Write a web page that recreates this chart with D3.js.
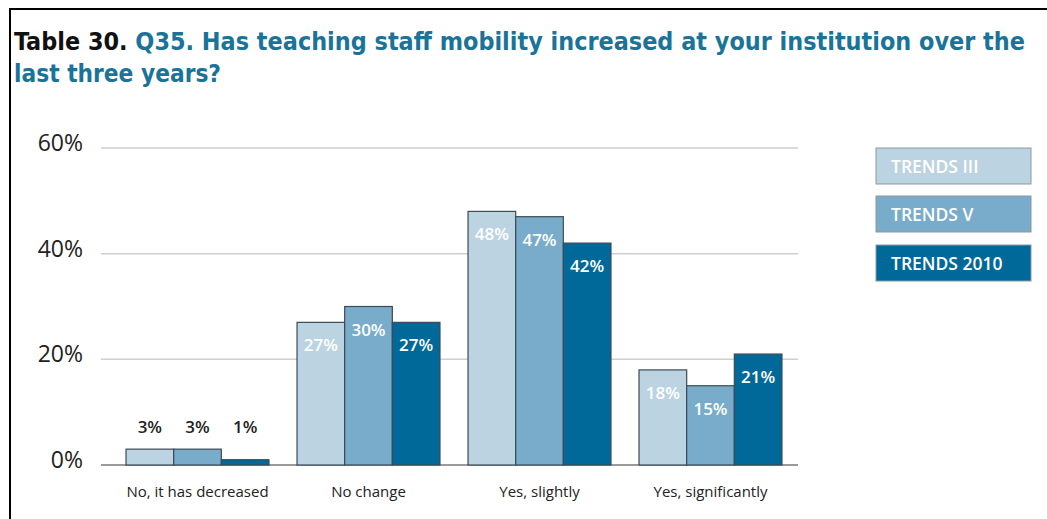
<!DOCTYPE html>
<html>
<head>
<meta charset="utf-8">
<script src="https://cdn.jsdelivr.net/npm/d3@7"></script>
<style>
  html, body { margin: 0; padding: 0; background: #fff; }
  svg { display: block; }
</style>
</head>
<body>
<svg id="chart" width="1047" height="519"></svg>
<script>
// Survey answers, one group of bars per answer
const categories = ["No, it has decreased", "No change", "Yes, slightly", "Yes, significantly"];
const seriesNames = ["TRENDS III", "TRENDS V", "TRENDS 2010"];
const trendsIII = [3, 27, 48, 18];
const trendsV = [3, 30, 47, 15];
const trends2010 = [1, 27, 42, 21];
const yTicks = [0, 20, 40, 60];

const seriesValues = [trendsIII, trendsV, trends2010];
const colors = ["#bcd3e2", "#78acca", "#00699a"];

const svg = d3.select("#chart");
const font = "'Open Sans', 'Noto Sans', sans-serif";
const titleFont = "'Liberation Sans Narrow', 'DejaVu Sans Condensed', 'Roboto Condensed', sans-serif";

// Frame lines (top and left)
svg.append("line").attr("x1", 9).attr("x2", 1047).attr("y1", 9).attr("y2", 9)
  .attr("stroke", "#000").attr("stroke-width", 2);
svg.append("line").attr("x1", 10).attr("x2", 10).attr("y1", 8).attr("y2", 519)
  .attr("stroke", "#000").attr("stroke-width", 2);

// Title
const title = svg.append("text")
  .attr("x", 14).attr("y", 50)
  .attr("font-family", titleFont)
  .attr("font-stretch", "condensed")
  .attr("font-weight", "bold")
  .attr("font-size", 24)
  .attr("textLength", 1011).attr("lengthAdjust", "spacingAndGlyphs");
title.append("tspan").attr("fill", "#111").text("Table 30. ");
title.append("tspan").attr("fill", "#1a7398").text("Q35. Has teaching staff mobility increased at your institution over the");
svg.append("text")
  .attr("x", 14).attr("y", 82)
  .attr("font-family", titleFont)
  .attr("font-stretch", "condensed")
  .attr("font-weight", "bold")
  .attr("font-size", 24)
  .attr("fill", "#1a7398")
  .attr("textLength", 207).attr("lengthAdjust", "spacingAndGlyphs")
  .text("last three years?");

// Scales
const y = d3.scaleLinear().domain([0, 60]).range([465, 148]);
const x0 = d3.scaleBand().domain(categories).range([112, 796])
  .paddingInner(0.164).paddingOuter(0.082);
const x1 = d3.scaleBand().domain(seriesNames).range([0, x0.bandwidth()]).padding(0);

// Gridlines
svg.append("g").selectAll("line").data(yTicks).join("line")
  .attr("x1", 101).attr("x2", 798)
  .attr("y1", d => y(d)).attr("y2", d => y(d))
  .attr("stroke", d => d === 0 ? "#9a9a9a" : "#cfcfcf")
  .attr("stroke-width", d => d === 0 ? 2 : 1.5);

// Y axis labels
const yAxis = d3.axisLeft(y).tickValues(yTicks).tickFormat(d => d + "%").tickSize(0).tickPadding(0);
const yg = svg.append("g").attr("transform", "translate(83,-5)").call(yAxis);
yg.select(".domain").remove();
yg.selectAll("text").attr("font-family", font).attr("font-size", 23).attr("fill", "#222");

// Bars
const rows = categories.map((c, i) => seriesNames.map((s, j) => ({ cat: c, series: s, si: j, value: seriesValues[j][i] })));
const groups = svg.append("g").selectAll("g").data(rows).join("g")
  .attr("transform", d => `translate(${x0(d[0].cat)},0)`);

groups.selectAll("rect").data(d => d).join("rect")
  .attr("x", d => x1(d.series))
  .attr("y", d => y(d.value))
  .attr("width", x1.bandwidth())
  .attr("height", d => y(0) - y(d.value))
  .attr("fill", d => colors[d.si])
  .attr("stroke", "#3b4b57")
  .attr("stroke-width", 1.2);

// Value labels: above short bars, inside tall ones
groups.selectAll("text.val").data(d => d).join("text")
  .attr("class", "val")
  .attr("x", d => x1(d.series) + x1.bandwidth() / 2)
  .attr("y", d => d.value < 10 ? y(0) - 32 : y(d.value) + 29)
  .attr("text-anchor", "middle")
  .attr("font-family", font)
  .attr("font-weight", 600)
  .attr("font-size", 17)
  .attr("fill", d => d.value < 10 ? "#222" : "#ffffff")
  .text(d => d.value + "%");

// Category labels
const xAxis = d3.axisBottom(x0).tickSize(0).tickPadding(0);
const xg = svg.append("g").attr("transform", "translate(0,497)").call(xAxis);
xg.select(".domain").remove();
xg.selectAll("text").attr("font-family", font).attr("font-size", 15).attr("fill", "#222").attr("dy", 0);

// Legend
const legend = svg.append("g").selectAll("g").data(seriesNames).join("g")
  .attr("transform", (d, i) => `translate(876,${[148, 196, 245][i]})`);
legend.append("rect")
  .attr("width", 155).attr("height", 36)
  .attr("fill", (d, i) => colors[i])
  .attr("stroke", "#8a9aa5").attr("stroke-width", 1);
legend.append("text")
  .attr("x", 15).attr("y", 25)
  .attr("font-family", font).attr("font-weight", 600).attr("font-size", 17.5)
  .attr("fill", "#fff")
  .text(d => d);
</script>
</body>
</html>
